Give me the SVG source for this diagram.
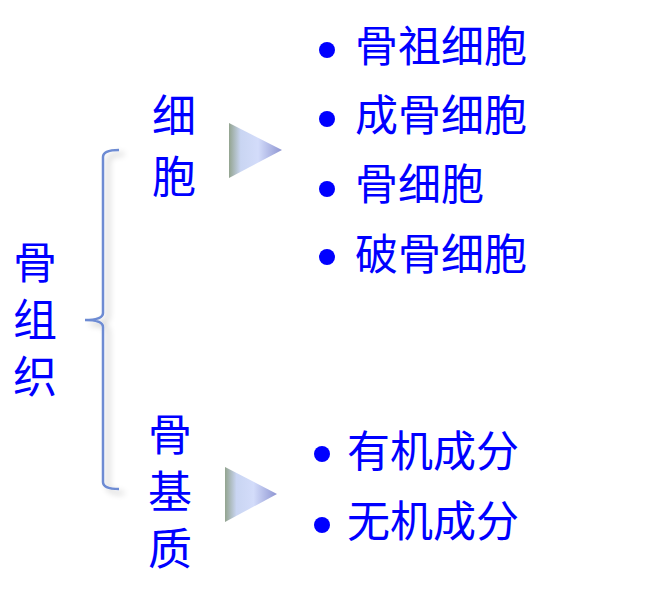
<svg xmlns="http://www.w3.org/2000/svg" width="665" height="592" viewBox="0 0 665 592">
<style>
text{font-family:"Noto Sans CJK SC","Noto Sans CJK TC",sans-serif;fill:#0000ff;font-size:43px}
.v{font-size:44px;writing-mode:vertical-rl;letter-spacing:13px}
.dot{fill:#0000ff}
.tri{fill:url(#tg)}
.br{fill:none;stroke:#6d8bd3;stroke-width:2.5}
</style>
<defs>
<linearGradient id="tg" x1="0" y1="0" x2="1" y2="0">
<stop offset="0" stop-color="#93a48f"/>
<stop offset="0.22" stop-color="#c9d5f2"/>
<stop offset="0.55" stop-color="#d3dcfa"/>
<stop offset="1" stop-color="#8e95d2"/>
</linearGradient>
<filter id="sh" x="-50%" y="-10%" width="300%" height="120%">
<feGaussianBlur in="SourceAlpha" stdDeviation="3"/>
<feOffset dx="5" dy="4" result="b"/>
<feComponentTransfer><feFuncA type="linear" slope="0.25"/></feComponentTransfer>
<feMerge><feMergeNode/><feMergeNode in="SourceGraphic"/></feMerge>
</filter>
</defs>
<g id="root">
<text class="v" x="35" y="240">骨组织</text>
</g>
<g id="connectors">
<path id="bracket" class="br" filter="url(#sh)" d="M119,150 Q103,150 103,157 L103,313 Q103,320 85,320 Q103,320 103,327 L103,482 Q103,489 119,489"/>
<polygon id="arrow1" class="tri" points="229,123 282,150 229,178"/>
<polygon id="arrow2" class="tri" points="225,467 277,494 225,522"/>
</g>
<g id="cells">
<text class="v" x="174" y="93" style="letter-spacing:17px">细胞</text>
</g>
<g id="matrix">
<text class="v" x="170" y="412">骨基质</text>
</g>
<g id="cell-list">
<circle class="dot" cx="327" cy="50" r="8"/><text x="355" y="62">骨祖细胞</text>
<circle class="dot" cx="327" cy="119" r="8"/><text x="355" y="131">成骨细胞</text>
<circle class="dot" cx="327" cy="189" r="8"/><text x="355" y="200">骨细胞</text>
<circle class="dot" cx="327" cy="257" r="8"/><text x="355" y="270">破骨细胞</text>
</g>
<g id="matrix-list">
<circle class="dot" cx="322" cy="454" r="8"/><text x="347" y="467">有机成分</text>
<circle class="dot" cx="322" cy="525" r="8"/><text x="347" y="537">无机成分</text>
</g>
</svg>
